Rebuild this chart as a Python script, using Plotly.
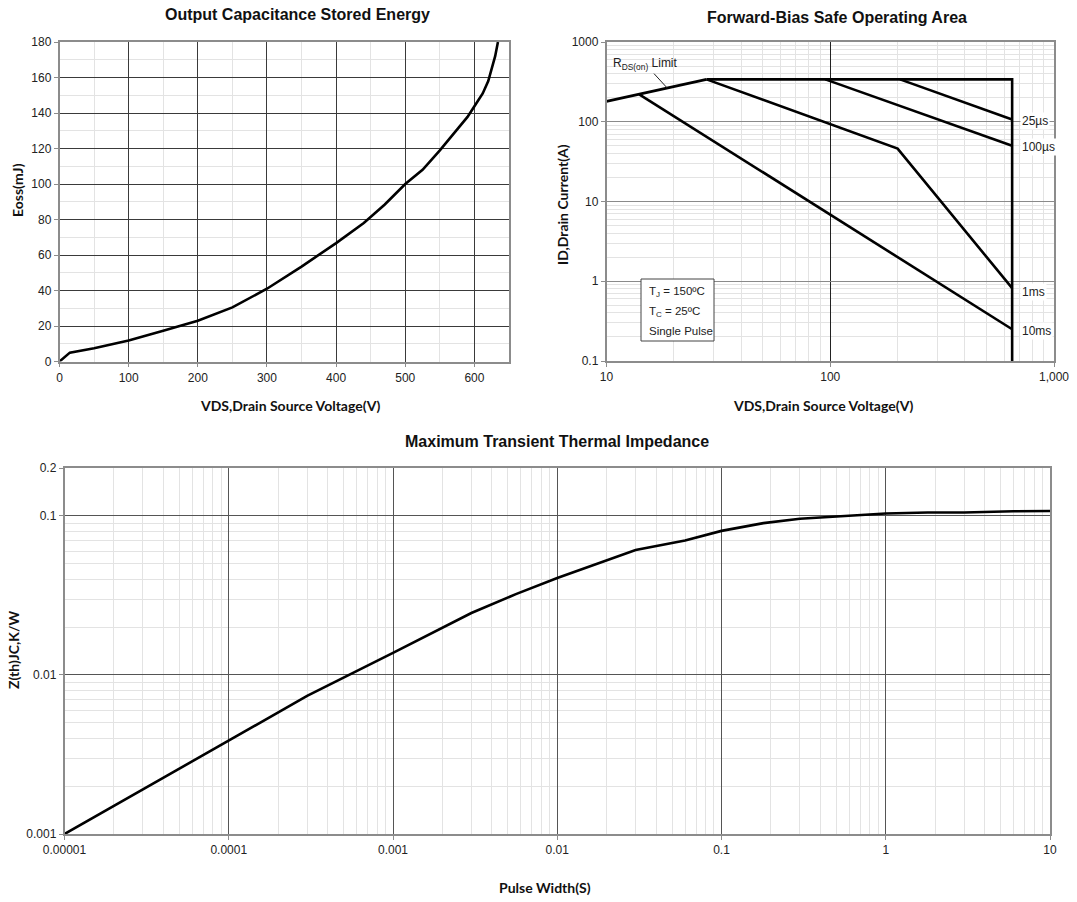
import math
import plotly.graph_objects as go

W, H = 1077, 902
OFF = 0  # body margin removed via post_script

# ---------------- data ----------------
eoss_vds = [0, 15, 50, 100, 150, 200, 250, 300, 350, 400, 440, 470, 500, 525, 550, 575, 590, 600, 612, 620, 625, 630, 634]
eoss_mj = [0, 5, 7.5, 11.8, 17.3, 23, 30.5, 41, 53.5, 66.7, 78, 88.3, 100, 108, 119, 130.6, 137.8, 143.8, 151, 158, 164.5, 172, 180]

rds_vds = [10, 14, 28]
rds_id = [180, 221, 340]
limit_vds = [28, 650, 650]
limit_id = [340, 340, 0.1]
us25_vds = [205, 650]
us25_id = [340, 107]
us100_vds = [95, 650]
us100_id = [340, 50]
ms1_vds = [28, 200, 650]
ms1_id = [340, 46, 0.82]
ms10_vds = [14, 650]
ms10_id = [221, 0.25]
soa_labels = ["25µs", "100µs", "1ms", "10ms"]
soa_label_id = [102, 48, 0.74, 0.24]
soa_label_vds = 650
rds_label_vds = 18.7
rds_label_id = 264
cond_lines = ["T<sub>J</sub> = 150ºC", "T<sub>C</sub> = 25ºC", "Single Pulse"]

zth_t = [1e-5, 1e-4, 3e-4, 1e-3, 3e-3, 5.6e-3, 1e-2, 3e-2, 6e-2, 1e-1, 1.8e-1, 3e-1, 5e-1, 1, 1.8, 3, 6, 10]
zth = [0.001, 0.00385, 0.00738, 0.01375, 0.0245, 0.0322, 0.0407, 0.061, 0.07, 0.0805, 0.09, 0.096, 0.099, 0.1035, 0.105, 0.105, 0.107, 0.1074]

eoss_xticks = [0, 100, 200, 300, 400, 500, 600]
eoss_yticks = [0, 20, 40, 60, 80, 100, 120, 140, 160, 180]
soa_xticks = [10, 100, 1000]
soa_xtext = ["10", "100", "1,000"]
soa_yticks = [0.1, 1, 10, 100, 1000]
soa_ytext = ["0.1", "1", "10", "100", "1000"]
zth_xticks = [1e-5, 1e-4, 1e-3, 1e-2, 1e-1, 1, 10]
zth_xtext = ["0.00001", "0.0001", "0.001", "0.01", "0.1", "1", "10"]
zth_yticks = [0.001, 0.01, 0.1, 0.2]
zth_ytext = ["0.001", "0.01", "0.1", "0.2"]


def fx(p):
    return (p - OFF) / W


def fy(p):
    return 1 - (p - OFF) / H


def px_x(a, b):
    return [fx(a), fx(b)]


def px_y(top, bottom):
    return [fy(bottom), fy(top)]


def log_minor(lo_exp, hi_exp, top=None):
    vals = []
    for e in range(lo_exp, hi_exp):
        for m in range(2, 10):
            v = m * 10 ** e
            if top is None or v < top * 0.999:
                vals.append(v)
    return vals


fig = go.Figure()
LINE = dict(color="black", width=2.6)

# Chart 1
fig.add_trace(go.Scatter(x=eoss_vds, y=eoss_mj, mode="lines", line=LINE, xaxis="x", yaxis="y", showlegend=False))

# Chart 2
for xs, ys in [(rds_vds, rds_id), (limit_vds, limit_id), (us25_vds, us25_id), (us100_vds, us100_id),
               (ms1_vds, ms1_id), (ms10_vds, ms10_id)]:
    fig.add_trace(go.Scatter(x=xs, y=ys, mode="lines", line=LINE, xaxis="x2", yaxis="y2", showlegend=False))

# Chart 3
fig.add_trace(go.Scatter(x=zth_t, y=zth, mode="lines", line=LINE, xaxis="x3", yaxis="y3", showlegend=False))

TICKFONT = dict(family="Liberation Sans, Arial", size=12, color="#222")
MIN = "#e3e3e3"
BORDER = "#8c8c8c"

common = dict(showline=True, linecolor=BORDER, linewidth=1.5, mirror=True, ticks="outside",
              ticklen=4, tickcolor=BORDER, tickfont=TICKFONT, zeroline=False, automargin=False)

fig.update_layout(
    width=W, height=H, margin=dict(l=0, r=0, t=0, b=0, autoexpand=False),
    paper_bgcolor="white", plot_bgcolor="white",
    xaxis=dict(domain=px_x(59.5, 509), range=[0, 650], tickvals=eoss_xticks, gridcolor="#3a3a3a", gridwidth=1,
               minor=dict(dtick=50, showgrid=True, gridcolor=MIN, ticks=""), anchor="y", **common),
    yaxis=dict(domain=px_y(42, 361.5), range=[0, 180], tickvals=eoss_yticks, gridcolor="#3a3a3a", gridwidth=1,
               minor=dict(dtick=10, showgrid=True, gridcolor=MIN, ticks=""), anchor="x", **common),
    xaxis2=dict(domain=px_x(606.5, 1054), type="log", range=[1, 3], tickvals=soa_xticks, ticktext=soa_xtext,
                gridcolor="#222", gridwidth=1,
                minor=dict(tickmode="array", tickvals=log_minor(1, 3), showgrid=True, gridcolor=MIN, ticks=""),
                anchor="y2", **common),
    yaxis2=dict(domain=px_y(42, 361), type="log", range=[-1, 3], tickvals=soa_yticks, ticktext=soa_ytext,
                gridcolor="#8a8a8a", gridwidth=1.2,
                minor=dict(tickmode="array", tickvals=log_minor(-1, 3), showgrid=True, gridcolor=MIN, ticks=""),
                anchor="x2", **common),
    xaxis3=dict(domain=px_x(64.5, 1050), type="log", range=[-5, 1], tickvals=zth_xticks, ticktext=zth_xtext,
                gridcolor="#555", gridwidth=1,
                minor=dict(tickmode="array", tickvals=log_minor(-5, 1), showgrid=True, gridcolor=MIN, ticks=""),
                anchor="y3", **common),
    yaxis3=dict(domain=px_y(468, 834), type="log", range=[-3, math.log10(0.2)], tickvals=zth_yticks,
                ticktext=zth_ytext, gridcolor="#555", gridwidth=1,
                minor=dict(tickmode="array", tickvals=log_minor(-3, 0, top=0.2), showgrid=True, gridcolor=MIN, ticks=""),
                anchor="x3", **common),
)

TITLE = dict(family="Liberation Sans, Arial", size=16, color="#111")
AXT = dict(family="Lato, Open Sans", size=14, color="#111")


def ann_px(text, x, y, font, angle=0, xanchor="center"):
    fig.add_annotation(text=text, x=fx(x), y=fy(y), xref="paper", yref="paper", showarrow=False,
                       font=font, textangle=angle, xanchor=xanchor, yanchor="middle")


ann_px("<b>Output Capacitance Stored Energy</b>", 297, 15, TITLE)
ann_px("<b>Forward-Bias Safe Operating Area</b>", 837, 18, TITLE)
ann_px("<b>Maximum Transient Thermal Impedance</b>", 557, 441, TITLE)
ann_px("<b>VDS,Drain Source Voltage(V)</b>", 290, 405, AXT)
ann_px("<b>VDS,Drain Source Voltage(V)</b>", 823, 405, AXT)
ann_px("<b>Pulse Width(S)</b>", 545, 887, AXT)
ann_px("<b>Eoss(mJ)</b>", 17, 190, AXT, -90)
ann_px("<b>ID,Drain Current(A)</b>", 562, 205, AXT, -90)
ann_px("<b>Z(th)JC,K/W</b>", 13, 650, AXT, -90)

LBL = dict(family="Liberation Sans, Arial", size=12, color="#222")
for t, yv in zip(soa_labels, soa_label_id):
    fig.add_annotation(text=t, x=math.log10(soa_label_vds), y=math.log10(yv), xref="x2", yref="y2",
                       xanchor="left", yanchor="middle", showarrow=False, font=LBL, bgcolor="white", xshift=8)

fig.add_annotation(text="R<sub>DS(on)</sub> Limit", x=math.log10(rds_label_vds), y=math.log10(rds_label_id),
                   xref="x2", yref="y2", showarrow=True, arrowhead=0, arrowwidth=1, arrowcolor="#222",
                   ax=-22, ay=-24, font=LBL)

# conditions box
fig.add_shape(type="rect", xref="paper", yref="paper", x0=fx(641), x1=fx(714), y0=fy(341), y1=fy(279),
              line=dict(color="#444", width=1), fillcolor="white", layer="above")
BOXF = dict(family="Liberation Sans, Arial", size=11.5, color="#222")
for t, yy in zip(cond_lines, [292, 312, 331]):
    ann_px(t, 647, yy, BOXF, xanchor="left")

fig.write_html("out.html", config={"displayModeBar": False},
               post_script="document.body.style.margin='0px';document.body.style.overflow='hidden';")
